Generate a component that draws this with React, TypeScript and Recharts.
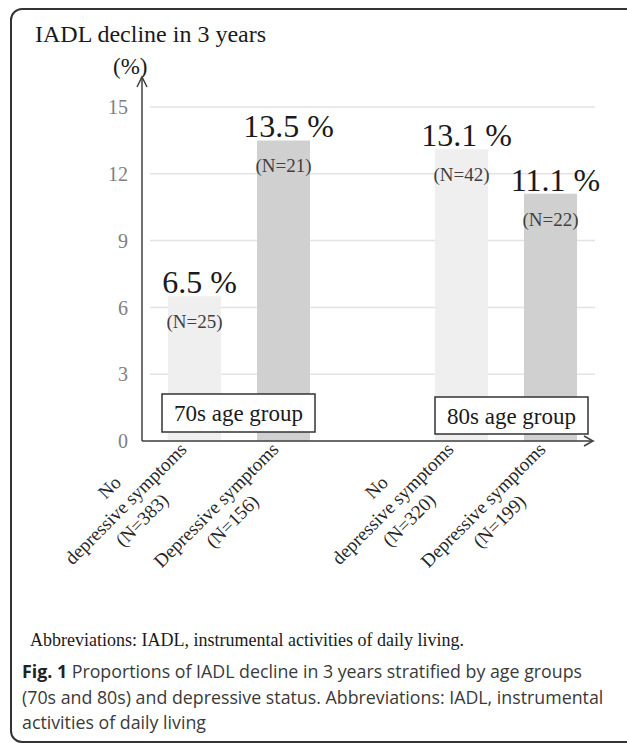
import React from "react";
import { BarChart, Bar, XAxis, YAxis, CartesianGrid, Cell, LabelList } from "recharts";

// categories (a blank slot separates the two age groups)
const categoryKeys = ["70s-no", "70s-dep", "gap", "80s-no", "80s-dep"];
const categoryLines = [
  ["No", "depressive symptoms", "(N=383)"],
  ["Depressive symptoms", "(N=156)"],
  [],
  ["No", "depressive symptoms", "(N=320)"],
  ["Depressive symptoms", "(N=199)"],
];
const declinePct = [6.5, 13.5, null, 13.1, 11.1];
const declineN = ["(N=25)", "(N=21)", "", "(N=42)", "(N=22)"];
const barFills = ["#efefef", "#cfd0cf", "#ffffff", "#efefef", "#cfd0cf"];
const yTicks = [0, 3, 6, 9, 12, 15];
const ageGroups = ["70s age group", "80s age group"];

const data = categoryKeys.map((key, i) => ({
  key,
  value: declinePct[i],
  n: declineN[i],
}));

const SERIF = "'Liberation Serif', 'Times New Roman', serif";

const XTick = (props: any) => {
  const { x, y, payload } = props;
  const idx = categoryKeys.indexOf(payload.value);
  const lines = categoryLines[idx] || [];
  const ys = lines.length === 3 ? [-21, 2, 25] : [4, 27];
  return (
    <g transform={`translate(${x},${y}) rotate(-45)`}>
      {lines.map((l, i) => (
        <text
          key={i}
          x={-93}
          y={ys[i]}
          textAnchor="middle"
          fontFamily={SERIF}
          fontSize={19}
          fill="#262626"
        >
          {l}
        </text>
      ))}
    </g>
  );
};

const PctLabel = (props: any) => {
  const { x, y, width, value } = props;
  if (value == null) return null;
  return (
    <text x={x + width / 2 + 5} y={y - 3} textAnchor="middle" fontFamily={SERIF} fontSize={32} fill="#1a1a1a">
      {`${value} %`}
    </text>
  );
};

const NLabel = (props: any) => {
  const { x, y, width, value } = props;
  if (!value) return null;
  return (
    <text x={x + width / 2} y={y + 32} textAnchor="middle" fontFamily={SERIF} fontSize={19} fill="#404040">
      {value}
    </text>
  );
};

export default function App() {
  return (
    <div
      style={{
        position: "absolute",
        left: 0,
        top: 0,
        width: 627,
        height: 743,
        overflow: "hidden",
        background: "#fff",
      }}
    >
      <div
        style={{
          position: "absolute",
          left: 10,
          top: 8,
          width: 640,
          height: 735,
          border: "2px solid #333",
          borderRadius: 12,
          boxSizing: "border-box",
        }}
      />
      <div
        style={{
          position: "absolute",
          left: 35,
          top: 20,
          fontFamily: SERIF,
          fontSize: 24,
          color: "#1a1a1a",
          lineHeight: "28px",
        }}
      >
        IADL decline in 3 years
      </div>
      <div
        style={{
          position: "absolute",
          left: 113,
          top: 53,
          fontFamily: SERIF,
          fontSize: 23,
          color: "#1a1a1a",
          lineHeight: "28px",
        }}
      >
        (%)
      </div>
      <div style={{ position: "absolute", left: 0, top: 0 }}>
        <BarChart
          width={627}
          height={600}
          data={data}
          margin={{ top: 107, right: 32, left: 90, bottom: 29 }}
          barSize={53}
        >
          <CartesianGrid horizontal vertical={false} stroke="#e3e3e3" strokeWidth={1.5} />
          <XAxis
            dataKey="key"
            interval={0}
            axisLine={false}
            tickLine={false}
            tickSize={0}
            tickMargin={0}
            height={130}
            tick={<XTick />}
          />
          <YAxis
            domain={[0, 15]}
            ticks={yTicks}
            width={60}
            axisLine={false}
            tickLine={false}
            tickSize={0}
            tickMargin={22}
            tick={{ fill: "#808080", fontSize: 20, fontFamily: SERIF }}
          />
          <Bar dataKey="value" isAnimationActive={false}>
            {data.map((d, i) => (
              <Cell key={d.key} fill={barFills[i]} />
            ))}
            <LabelList dataKey="value" content={<PctLabel />} />
            <LabelList dataKey="n" content={<NLabel />} />
          </Bar>
        </BarChart>
      </div>
      <svg
        width={627}
        height={743}
        style={{ position: "absolute", left: 0, top: 0, pointerEvents: "none" }}
      >
        <g stroke="#404040" strokeWidth={1.5} fill="none">
          <line x1={142} y1={441} x2={142} y2={78} />
          <polyline points="137,87 142,77 147,87" />
          <line x1={142} y1={441} x2={592} y2={441} />
          <polyline points="584,436 593,441 584,446" />
        </g>
        <rect x={162} y={394} width={153} height={38} fill="#fff" stroke="#333" strokeWidth={1.5} />
        <text x={238.5} y={421} textAnchor="middle" fontFamily={SERIF} fontSize={23} fill="#1a1a1a">
          {ageGroups[0]}
        </text>
        <rect x={435} y={397} width={153} height={37} fill="#fff" stroke="#333" strokeWidth={1.5} />
        <text x={511.5} y={424} textAnchor="middle" fontFamily={SERIF} fontSize={23} fill="#1a1a1a">
          {ageGroups[1]}
        </text>
      </svg>
      <div
        style={{
          position: "absolute",
          left: 30,
          top: 627,
          fontFamily: SERIF,
          fontSize: 18,
          color: "#1a1a1a",
          lineHeight: "26px",
          whiteSpace: "nowrap",
        }}
      >
        Abbreviations: IADL, instrumental activities of daily living.
      </div>
      <div
        style={{
          position: "absolute",
          left: 22,
          top: 659,
          fontFamily: "'Open Sans', 'Noto Sans', sans-serif",
          fontSize: 17.8,
          color: "#3a3a3a",
          lineHeight: "25.5px",
          whiteSpace: "nowrap",
        }}
      >
        <b style={{ color: "#222" }}>Fig. 1</b> Proportions of IADL decline in 3 years stratified by age groups
        <br />
        (70s and 80s) and depressive status. Abbreviations: IADL, instrumental
        <br />
        activities of daily living
      </div>
    </div>
  );
}
